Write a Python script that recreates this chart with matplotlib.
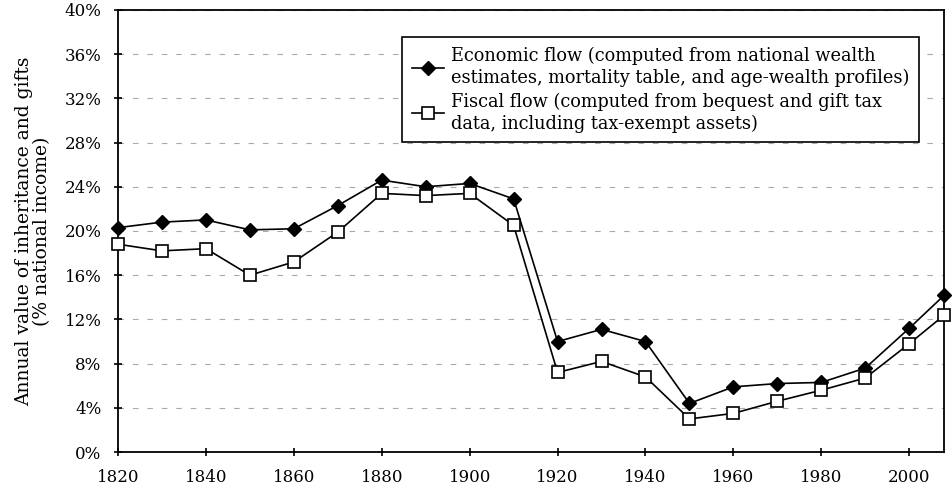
import matplotlib
matplotlib.use("Agg")
import matplotlib.pyplot as plt
from matplotlib.ticker import FuncFormatter

plt.rcParams['font.family'] = ['DejaVu Serif']

years = [1820, 1830, 1840, 1850, 1860, 1870, 1880, 1890, 1900, 1910,
         1920, 1930, 1940, 1950, 1960, 1970, 1980, 1990, 2000, 2008]
economic = [20.3, 20.8, 21.0, 20.1, 20.2, 22.3, 24.6, 24.0, 24.3, 22.9,
            10.0, 11.1, 10.0, 4.4, 5.9, 6.2, 6.3, 7.6, 11.2, 14.2]
fiscal = [18.8, 18.2, 18.4, 16.0, 17.2, 19.9, 23.4, 23.2, 23.4, 20.5,
          7.2, 8.2, 6.8, 3.0, 3.5, 4.6, 5.6, 6.7, 9.8, 12.4]

econ_label = ("Economic flow (computed from national wealth\n"
              "estimates, mortality table, and age-wealth profiles)")
fisc_label = ("Fiscal flow (computed from bequest and gift tax\n"
              "data, including tax-exempt assets)")

fig = plt.figure(figsize=(9.52, 4.93), dpi=100)
ax = fig.add_axes([0.124, 0.083, 0.868, 0.897])

ax.plot(years, economic, color='black', lw=1.2, marker='D', ms=7,
        mfc='black', mec='black', label=econ_label, clip_on=False, zorder=3)
ax.plot(years, fiscal, color='black', lw=1.2, marker='s', ms=8,
        mfc='white', mec='black', mew=1.2, label=fisc_label, clip_on=False, zorder=3)

ax.set_xlim(1820, 2008)
ax.set_ylim(0, 40)
ax.set_xticks(range(1820, 2001, 20))
ax.set_yticks(range(0, 41, 4))
ax.yaxis.set_major_formatter(FuncFormatter(lambda v, p: "%d%%" % v))
ax.tick_params(direction='inout', length=6, width=1.2, labelsize=12, pad=9)
ax.yaxis.grid(True, linestyle=(0, (5, 8)), color='#aaaaaa', lw=0.8)

for s in ax.spines.values():
    s.set_linewidth(1.3)

ax.set_ylabel("Annual value of inheritance and gifts\n(% national income)",
              fontsize=13.5, labelpad=10, linespacing=1.0)

leg = ax.legend(loc='upper right', bbox_to_anchor=(0.98, 0.958), fontsize=12.8,
                frameon=True, fancybox=False, framealpha=1, edgecolor='black',
                handlelength=1.8, handletextpad=0.4, borderpad=0.55,
                labelspacing=0.3)
leg.get_frame().set_linewidth(1.2)
for t in leg.get_texts():
    t.set_linespacing(1.25)

fig.savefig("out.png", dpi=100)
